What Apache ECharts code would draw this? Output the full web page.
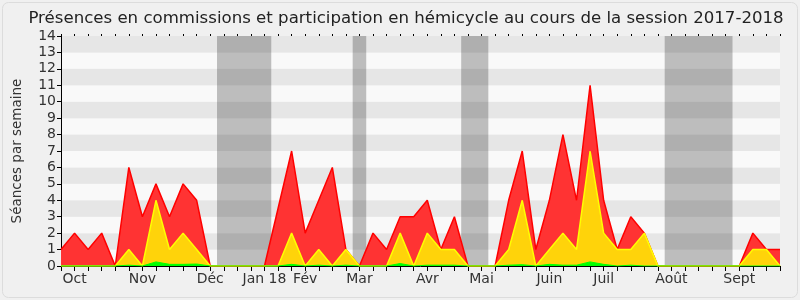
<!DOCTYPE html>
<html>
<head>
<meta charset="utf-8">
<script src="https://cdn.jsdelivr.net/npm/echarts@6/dist/echarts.min.js"></script>
<style>html,body{margin:0;padding:0;background:#fff}#c{width:800px;height:300px}</style>
</head>
<body>
<div id="c"></div>
<script>
// week index 0..53
var monthLabels = {1:'Oct',6:'Nov',11:'Déc',15:'Jan 18',18:'Fév',22:'Mar',27:'Avr',31:'Mai',36:'Juin',40:'Juil',45:'Août',50:'Sept'};
var hemicycle = [1,2,1,2,0,6,3,5,3,5,4,0,0,0,0,0,3.5,7,2,4,6,1,0,2,1,3,3,4,1,3,0,0,0,4,7,1,4,8,4,11,4,1,3,2,0,0,0,0,0,0,0,2,1,1];
var interventions = [0,0,0,0,0,1,0,4,1,2,1,0,0,0,0,0,0,2,0,1,0,1,0,0,0,2,0,2,1,1,0,0,0,1,4,0,1,2,1,7,2,1,1,2,0,0,0,0,0,0,0,1,1,0];
var commissions = [0,0,0,0,0,0.05,0,0.25,0.1,0.1,0.12,0,0,0,0,0,0,0.1,0,0.05,0,0.05,0,0,0,0.15,0,0.05,0.05,0.05,0,0,0,0.05,0.08,0,0.1,0.05,0.05,0.25,0.1,0,0.05,0,0,0,0,0,0,0,0,0,0,0];
var vacances = [[11.5,15.5],[21.5,22.5],[29.5,31.5],[44.5,49.5]];

function pairs(arr){ return arr.map(function(v,i){ return [i,v]; }); }
var FONT = 'DejaVu Sans';
var chart = echarts.init(document.getElementById('c'), null, {renderer:'canvas'});
chart.setOption({
  backgroundColor:'#f0f0f0',
  animation:false,
  textStyle:{fontFamily:FONT},
  graphic:[{type:'rect',shape:{x:2.5,y:2.5,width:795,height:295,r:6},style:{fill:'none',stroke:'#dcdcdc',lineWidth:1},z:-1}],
  title:{text:'Présences en commissions et participation en hémicycle au cours de la session 2017-2018',left:401,textAlign:'center',top:5,
    textStyle:{fontFamily:FONT,fontSize:16.6,fontWeight:'normal',color:'#222'}},
  grid:{left:61,right:20,top:36,bottom:34,containLabel:false},
  xAxis:[{type:'value',min:0,max:53,interval:1,
    axisLine:{show:true,lineStyle:{color:'#000',width:1}},
    axisTick:{show:true,length:5,lineStyle:{color:'#000'}},
    splitLine:{show:false},
    axisLabel:{show:true,margin:6,color:'#333',fontSize:14,fontFamily:FONT,showMinLabel:true,showMaxLabel:true,
      formatter:function(v){return monthLabels[v]||'';}}},
    {type:'value',position:'top',min:0,max:53,interval:1,
    axisLine:{show:false},axisTick:{show:true,length:2,lineStyle:{color:'#000'}},axisLabel:{show:false},splitLine:{show:false}}],
  yAxis:{type:'value',min:0,max:14,interval:1,
    name:'Séances par semaine',nameLocation:'middle',nameGap:37,nameRotate:90,
    nameTextStyle:{fontFamily:FONT,fontSize:13.5,color:'#333'},
    axisLine:{show:true,lineStyle:{color:'#000'}},
    axisTick:{show:true,length:4,lineStyle:{color:'#000'}},
    axisLabel:{margin:5,color:'#333',fontSize:14,fontFamily:FONT},
    splitLine:{show:false},
    splitArea:{show:true,areaStyle:{color:['#f9f9f9','#e6e6e6']}}},
  series:[
    {type:'line',data:[],z:1,silent:true,
     markArea:{silent:true,itemStyle:{color:'rgba(0,0,0,0.24)'},
       data:vacances.map(function(b){return [{xAxis:b[0]},{xAxis:b[1]}];})}},
    {name:'hemicycle',type:'line',data:pairs(hemicycle),z:2,showSymbol:false,symbol:'none',
     lineStyle:{color:'#ff0000',width:1.5},areaStyle:{color:'#ff3333',opacity:1}},
    {name:'interventions',type:'line',data:pairs(interventions),z:3,showSymbol:false,symbol:'none',
     lineStyle:{color:'#ffff00',width:1.5},areaStyle:{color:'#ffd30a',opacity:1}},
    {name:'commissions',type:'line',data:pairs(commissions),z:4,showSymbol:false,symbol:'none',
     lineStyle:{color:'#00ff00',width:1},areaStyle:{color:'#00ff00',opacity:1}}
  ]
});
</script>
</body>
</html>
